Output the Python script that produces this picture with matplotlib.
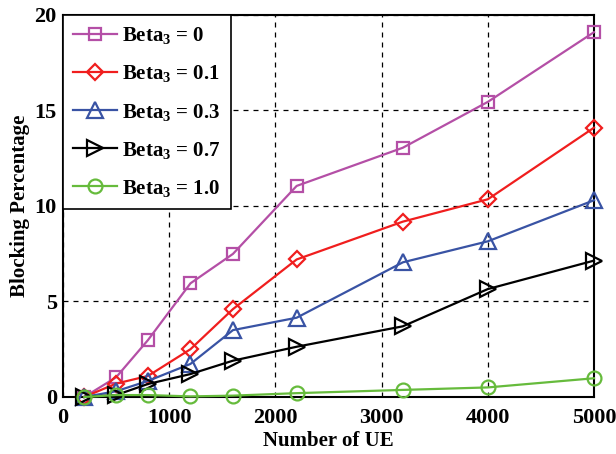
import numpy as np
import matplotlib
matplotlib.use('Agg')
import matplotlib.pyplot as plt

num_ue = [200, 500, 800, 1200, 1600, 2200, 3200, 4000, 5000]
beta_0 = [0, 1.03, 2.98, 5.95, 7.49, 11.05, 13.05, 15.45, 19.1]
beta_01 = [0, 0.7, 1.1, 2.5, 4.6, 7.2, 9.18, 10.35, 14.1]
beta_03 = [0, 0.3, 0.84, 1.73, 3.5, 4.15, 7.05, 8.15, 10.3]
beta_07 = [0, 0.1, 0.68, 1.2, 1.9, 2.63, 3.7, 5.65, 7.14]
beta_10 = [0, 0.1, 0.1, 0.03, 0.07, 0.2, 0.37, 0.5, 0.98]
labels = ['0', '0.1', '0.3', '0.7', '1.0']


def main():
    plt.rcParams['font.family'] = ['Liberation Serif', 'DejaVu Serif']
    plt.rcParams['font.weight'] = 'bold'
    plt.rcParams['mathtext.fontset'] = 'custom'
    plt.rcParams['mathtext.rm'] = 'Liberation Serif:bold'
    plt.rcParams['mathtext.bf'] = 'Liberation Serif:bold'
    plt.rcParams['mathtext.default'] = 'bf'

    fig = plt.figure(figsize=(6.16, 4.54), dpi=100)
    ax = fig.add_axes([0.1023, 0.1256, 0.862, 0.8414])

    series = [beta_0, beta_01, beta_03, beta_07, beta_10]
    colors = ['#B44FA6', '#F01E1E', '#3953A4', '#000000', '#66BB3C']
    markers = ['s', 'D', '^', '>', 'o']
    sizes = [9, 8, 11, 11, 10]
    for ys, c, m, ms, lab in zip(series, colors, markers, sizes, labels):
        ax.plot(num_ue, ys, color=c, marker=m, markersize=ms,
                markerfacecolor='none', markeredgewidth=1.6, linewidth=1.6,
                label='Beta$_3$ = ' + lab, clip_on=False, zorder=3)

    ax.set_xlim(0, 5000)
    ax.set_ylim(0, 20)
    ax.set_xticks([0, 1000, 2000, 3000, 4000, 5000])
    ax.set_yticks([0, 5, 10, 15, 20])
    ax.grid(True, linestyle=(0, (4, 4)), color='black', linewidth=0.9)
    ax.tick_params(direction='in', labelsize=16, length=0)
    ax.tick_params(axis='x', pad=8)
    ax.tick_params(axis='y', pad=4.5)
    for lab in ax.get_xticklabels() + ax.get_yticklabels():
        lab.set_fontweight('bold')
    for sp in ax.spines.values():
        sp.set_linewidth(1.5)
    ax.set_xlabel('Number of UE', fontsize=15, fontweight='bold', labelpad=2)
    ax.set_ylabel('Blocking Percentage', fontsize=15, fontweight='bold', labelpad=3)

    leg = ax.legend(loc='upper left', fontsize=15, frameon=True, fancybox=False,
                    borderaxespad=0, handlelength=2.1, labelspacing=0.82,
                    borderpad=0.5, handletextpad=0.25)
    leg.get_frame().set_edgecolor('black')
    leg.get_frame().set_linewidth(1.2)
    leg.get_frame().set_alpha(1)
    leg.set_zorder(5)

    fig.savefig('out.png', dpi=100)


if __name__ == '__main__':
    main()
